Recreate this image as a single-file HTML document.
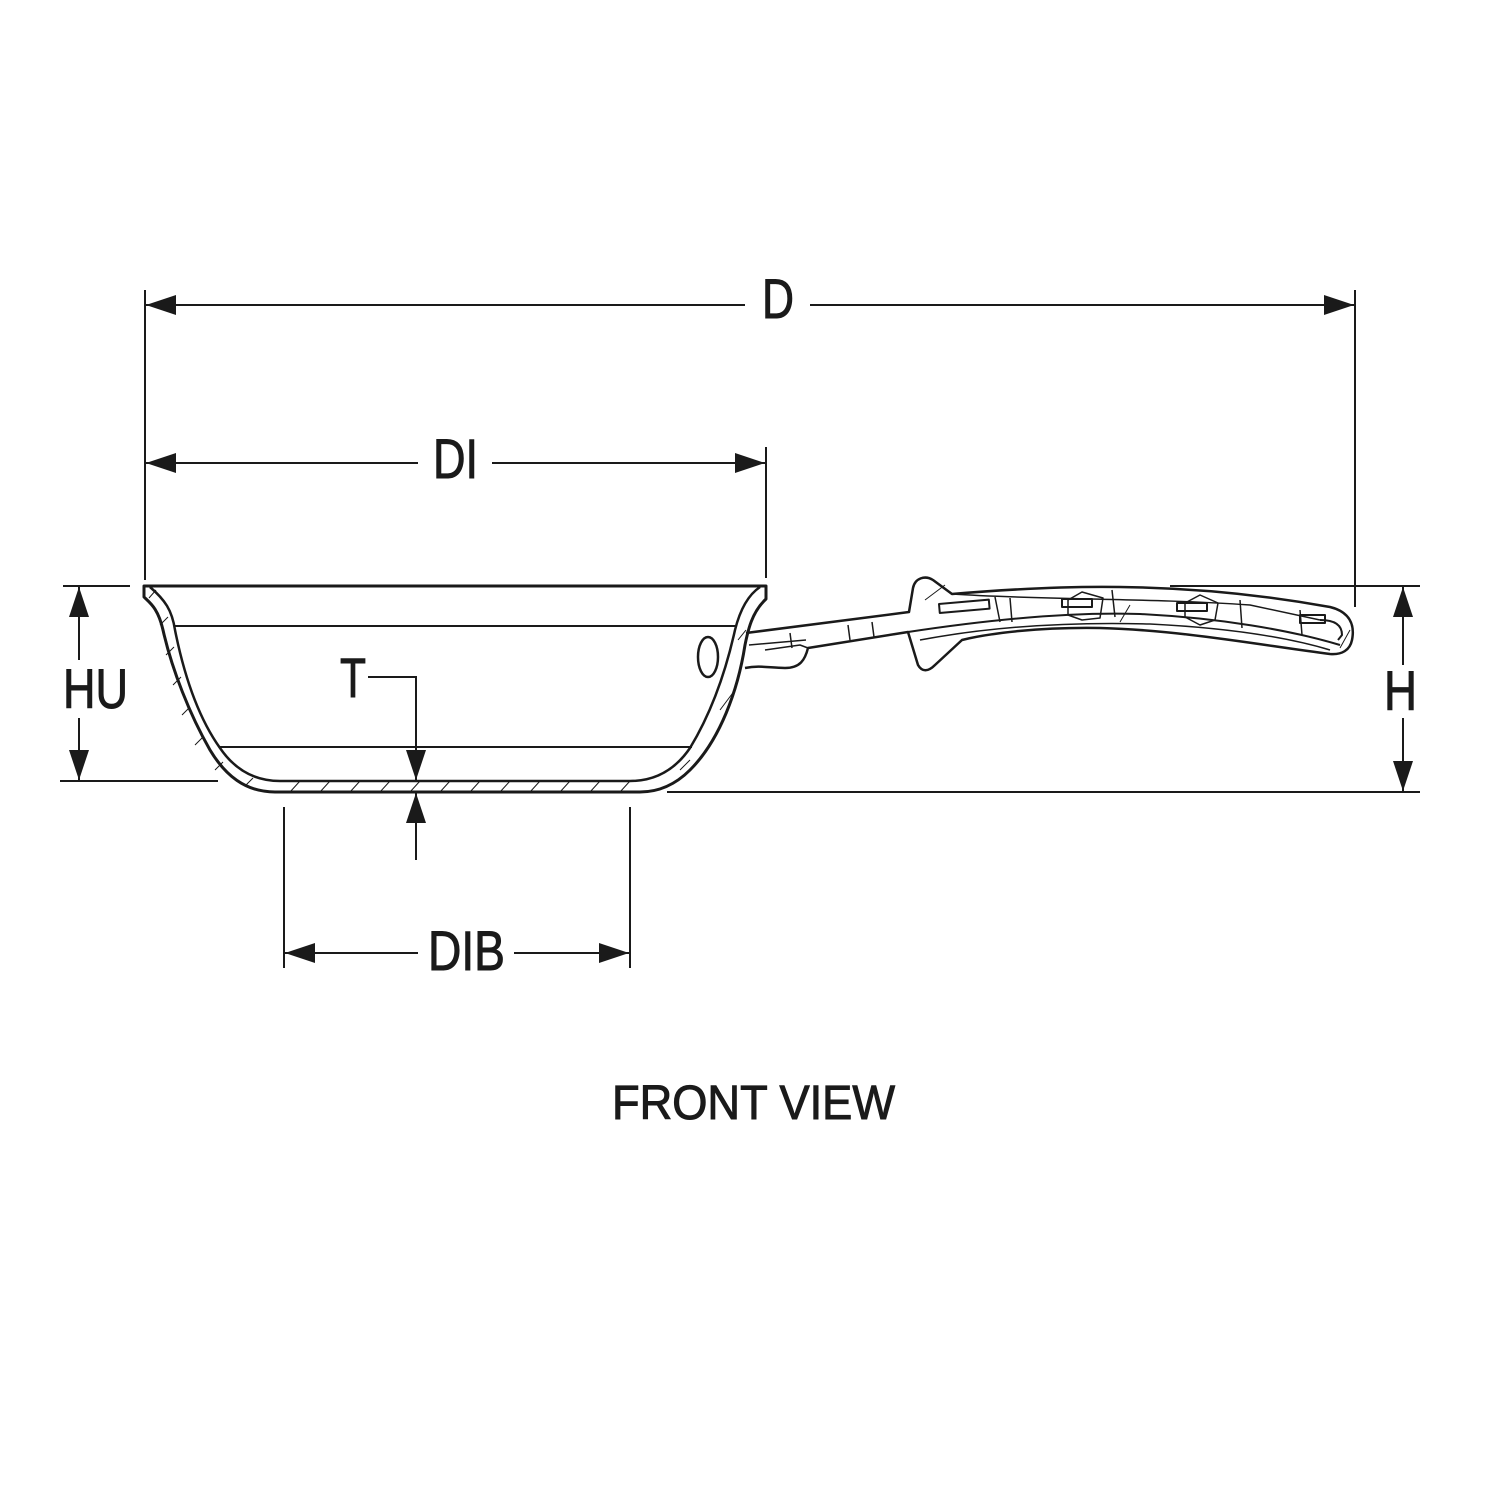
<!DOCTYPE html>
<html><head><style>
html,body{margin:0;padding:0;background:#fff;}
svg{display:block;}
text{font-family:"Liberation Sans",sans-serif;font-size:56px;fill:#1a1a1a;stroke:#1a1a1a;stroke-width:1;}
</style></head><body>
<svg width="1500" height="1500" viewBox="0 0 1500 1500" xmlns="http://www.w3.org/2000/svg">
<defs>
<marker id="a" viewBox="0 0 30 20" refX="30" refY="10" markerWidth="30" markerHeight="20" markerUnits="userSpaceOnUse" orient="auto-start-reverse"><path d="M0,0 L30,10 L0,20 Z" fill="#1a1a1a"/></marker>
</defs>
<g stroke="#1a1a1a" stroke-width="2" fill="none">
<line x1="145" y1="290" x2="145" y2="580"/>
<line x1="1355" y1="290" x2="1355" y2="607"/>
<line x1="146" y1="305" x2="745" y2="305" marker-start="url(#a)"/>
<line x1="810" y1="305" x2="1354" y2="305" marker-end="url(#a)"/>
<line x1="766" y1="447" x2="766" y2="578"/>
<line x1="146" y1="463" x2="418" y2="463" marker-start="url(#a)"/>
<line x1="492" y1="463" x2="765" y2="463" marker-end="url(#a)"/>
<line x1="63" y1="586" x2="130" y2="586"/>
<line x1="60" y1="781" x2="218" y2="781"/>
<line x1="79" y1="587" x2="79" y2="660" marker-start="url(#a)"/>
<line x1="79" y1="718" x2="79" y2="780" marker-end="url(#a)"/>
<line x1="1170" y1="586" x2="1420" y2="586"/>
<line x1="667" y1="792" x2="1420" y2="792"/>
<line x1="1403" y1="587" x2="1403" y2="665" marker-start="url(#a)"/>
<line x1="1403" y1="718" x2="1403" y2="791" marker-end="url(#a)"/>
<polyline points="368,677 416,677 416,780" marker-end="url(#a)"/>
<line x1="416" y1="860" x2="416" y2="793" marker-end="url(#a)"/>
<line x1="284" y1="807" x2="284" y2="968"/>
<line x1="630" y1="807" x2="630" y2="968"/>
<line x1="285" y1="953" x2="418" y2="953" marker-start="url(#a)"/>
<line x1="514" y1="953" x2="629" y2="953" marker-end="url(#a)"/>
</g>
<g stroke="#1a1a1a" stroke-width="3" fill="none" stroke-linejoin="round">
<path d="M144,586 L766,586 L766,599 C752,612 748,630 745,645 C738,690 720,740 690,770 C676,784 660,792 640,792 L275,792 C245,792 225,775 210,750 C190,715 172,670 163,630 C158,608 150,603 144,597 Z"/>
<path d="M150,587 C165,600 172,610 175,630 C185,680 200,720 220,748 C235,770 255,781 280,781 L630,781 C655,781 675,770 690,748 C710,715 725,675 735,630 C740,610 748,595 760,587" stroke-width="2.5"/>
<line x1="174" y1="626" x2="737" y2="626" stroke-width="2"/>
<line x1="220" y1="747" x2="692" y2="747" stroke-width="2"/>
<ellipse cx="708" cy="657" rx="10" ry="20" stroke-width="2.5"/>
</g>
<g stroke="#1a1a1a" stroke-width="1" fill="none">
<path d="M290,792 l10,-11 M320,792 l10,-11 M350,792 l10,-11 M380,792 l10,-11 M410,792 l10,-11 M440,792 l10,-11 M470,792 l10,-11 M500,792 l10,-11 M530,792 l10,-11 M560,792 l10,-11 M590,792 l10,-11 M620,792 l10,-11"/>
<path d="M149,598 l7,-8 M160,625 l8,-8 M166,655 l8,-8 M173,685 l8,-8 M182,715 l8,-8 M195,745 l8,-8 M215,770 l8,-8 M245,786 l8,-8 M680,770 l10,-10 M720,710 l15,-20 M738,640 l8,-10"/>
</g>
<g stroke="#1a1a1a" stroke-width="2.5" fill="none" stroke-linejoin="round">
<path d="M746,633 L909,612 L913,588 C915,578 925,575 933,580 L952,594 C1000,590 1060,586 1120,587 C1200,588 1270,596 1330,607 C1350,612 1355,625 1352,640 C1350,650 1342,655 1330,654 C1260,645 1180,630 1100,628 C1040,627 990,633 962,640 L935,665 C928,672 922,672 918,665 L908,632 L808,648 C805,660 800,668 785,668 C770,668 760,665 745,668"/>
<path d="M908,632 C1000,618 1080,612 1140,614 C1220,618 1290,630 1340,645" stroke-width="2"/>
<path d="M952,594 C1040,600 1150,598 1250,605 L1320,620" stroke-width="1.5"/>
<path d="M920,640 C1000,625 1080,622 1150,624 C1230,628 1290,638 1330,650" stroke-width="1.5"/>
<path d="M749,645 L806,640 M765,650 L800,645 L808,648 M790,633 L792,648 M848,625 L850,640 M872,622 L874,637" stroke-width="1.5"/>
<rect x="939" y="604" width="50" height="9" transform="rotate(-5 939 604)" stroke-width="2"/>
<rect x="1062" y="599" width="30" height="8" stroke-width="2"/>
<rect x="1177" y="603" width="30" height="8" stroke-width="2"/>
<rect x="1300" y="615" width="25" height="8" stroke-width="2"/>
<path d="M995,597 L1000,622 M1010,598 L1012,622 M1082,592 L1068,600 L1068,615 L1082,620 L1100,618 L1103,598 Z M1112,590 L1115,617 M1200,595 L1185,603 L1185,617 L1200,625 L1215,620 L1218,603 Z M1240,600 L1242,628 M1300,610 L1302,635" stroke-width="1.5"/>
<path d="M1320,620 C1335,620 1342,625 1342,635 L1338,640" stroke-width="2"/>
<path d="M925,600 L945,585 M1130,605 L1120,622 M1350,630 L1340,648" stroke-width="1"/>
</g>
<text x="762" y="318" textLength="32" lengthAdjust="spacingAndGlyphs">D</text>
<text x="433" y="478" textLength="45" lengthAdjust="spacingAndGlyphs">DI</text>
<text x="63" y="708" textLength="65" lengthAdjust="spacingAndGlyphs">HU</text>
<text x="1384" y="710" textLength="33" lengthAdjust="spacingAndGlyphs">H</text>
<text x="340" y="697" textLength="26" lengthAdjust="spacingAndGlyphs">T</text>
<text x="428" y="970" textLength="77" lengthAdjust="spacingAndGlyphs">DIB</text>
<text x="612" y="1119" textLength="283" lengthAdjust="spacingAndGlyphs" style="font-size:48px">FRONT VIEW</text>
</svg>
</body></html>
